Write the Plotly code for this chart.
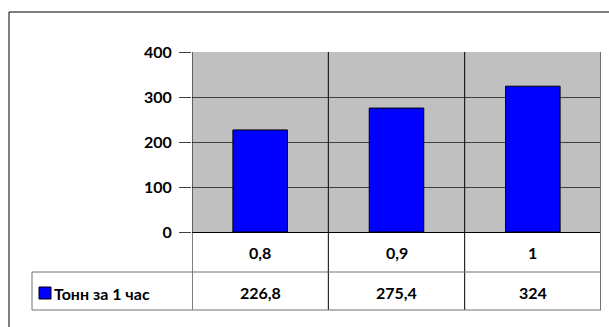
import plotly.graph_objects as go

categories = ["0,8", "0,9", "1"]
values = [226.8, 275.4, 324]
value_labels = ["226,8", "275,4", "324"]
series_name = "Тонн за 1 час"
y_ticks = [0, 100, 200, 300, 400]

W, H = 609, 327
FONT = "Lato"

def px(x):
    return x / W

def py(y):
    return 1 - y / H

plot_l, plot_r, plot_t, plot_b = 192, 601, 52, 232
row1_b, row2_b = 272, 310
legend_l = 32

fig = go.Figure()
fig.add_trace(go.Bar(
    x=list(range(len(categories))), y=values, name=series_name,
    marker=dict(color="#0000FF", line=dict(color="#000000", width=1)),
    showlegend=False,
))

shapes = []
line_dark = dict(color="#000000", width=1)
line_gray = dict(color="#707070", width=1)

# vertical dividers (category boundaries) through plot & table
for xv in [-0.5, 0.5, 1.5]:
    shapes.append(dict(type="line", xref="x", yref="paper", x0=xv, x1=xv,
                       y0=py(row2_b), y1=py(plot_t), line=line_dark, layer="above"))
shapes.append(dict(type="line", xref="x", yref="paper", x0=2.5, x1=2.5,
                   y0=py(row2_b), y1=py(plot_t), line=dict(color="#707070", width=2),
                   layer="above"))
# table horizontal lines
shapes.append(dict(type="line", xref="paper", yref="paper", x0=px(legend_l), x1=px(plot_r),
                   y0=py(row1_b), y1=py(row1_b), line=line_gray))
shapes.append(dict(type="line", xref="paper", yref="paper", x0=px(legend_l), x1=px(plot_r),
                   y0=py(row2_b), y1=py(row2_b), line=line_gray))
shapes.append(dict(type="line", xref="paper", yref="paper", x0=px(legend_l), x1=px(legend_l),
                   y0=py(row2_b), y1=py(row1_b), line=line_gray))
# legend key square
shapes.append(dict(type="rect", xref="paper", yref="paper", x0=px(39), x1=px(51),
                   y0=py(299), y1=py(287), fillcolor="#0000FF",
                   line=dict(color="#000000", width=1)))
# outer chart frame
shapes.append(dict(type="line", xref="paper", yref="paper", x0=px(9), x1=1.0,
                   y0=py(12), y1=py(12), line=dict(color="#808080", width=2)))
shapes.append(dict(type="line", xref="paper", yref="paper", x0=px(9), x1=px(9),
                   y0=0, y1=py(12), line=dict(color="#000000", width=1)))

tfont = dict(family=FONT, size=16, color="#000")
annotations = []
for i, c in enumerate(categories):
    annotations.append(dict(x=i, xref="x", y=py(253), yref="paper", text="<b>%s</b>" % c,
                            showarrow=False, font=tfont,
                            xanchor="center", yanchor="middle"))
for i, lab in enumerate(value_labels):
    annotations.append(dict(x=i, xref="x", y=py(292), yref="paper", text="<b>%s</b>" % lab,
                            showarrow=False, font=tfont,
                            xanchor="center", yanchor="middle"))
annotations.append(dict(x=px(52), xref="paper", y=py(293), yref="paper",
                        text="<b>%s</b>" % series_name,
                        showarrow=False, font=tfont,
                        xanchor="left", yanchor="middle"))

fig.update_layout(
    width=W, height=H,
    margin=dict(l=0, r=0, t=0, b=0),
    paper_bgcolor="white",
    plot_bgcolor="#C0C0C0",
    bargap=0.6,
    font=tfont,
    shapes=shapes,
    annotations=annotations,
    xaxis=dict(domain=[px(plot_l), px(plot_r)], range=[-0.5, 2.5],
               showticklabels=False, showgrid=False, zeroline=False, showline=False,
               ticks="", automargin=False),
    yaxis=dict(domain=[py(plot_b), py(plot_t)], range=[0, 400],
               tickvals=y_ticks, ticktext=["<b>%d</b>" % t for t in y_ticks],
               showgrid=True, gridcolor="#404040", gridwidth=1,
               zeroline=True, zerolinecolor="#000000", zerolinewidth=1,
               ticks="outside", ticklen=12, tickcolor="#404040",
               ticklabelstandoff=4,
               showline=False, automargin=False,
               tickfont=tfont),
)

fig.write_html("out.html")
